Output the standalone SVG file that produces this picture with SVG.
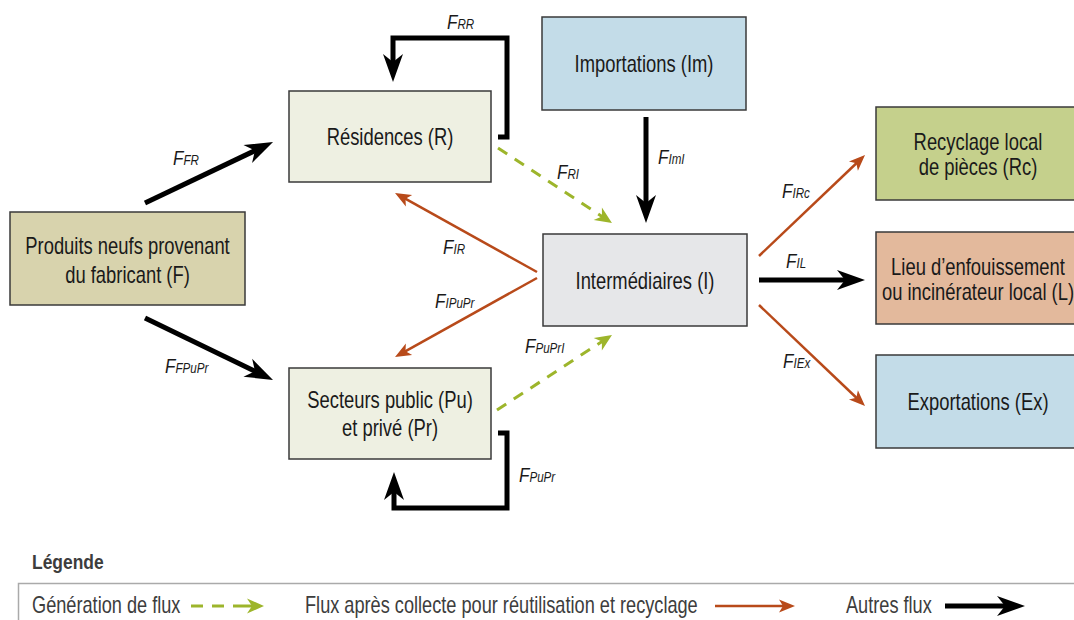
<svg xmlns="http://www.w3.org/2000/svg" width="1074" height="620" viewBox="0 0 1074 620">
<style>
text{font-family:"Liberation Sans",Arial,sans-serif;}
.box{stroke:#3a3a3a;stroke-width:1.5;}
.bt{font-size:23px;fill:#1a1a1a;text-anchor:middle;}
.lbl{font-size:20.5px;font-style:italic;fill:#1a1a1a;}
.sub{font-size:14px;}
.blk{stroke:#000;stroke-width:5;fill:none;}
.brn{stroke:#b84a1a;stroke-width:2.5;fill:none;}
.grn{stroke:#9db52b;stroke-width:3;fill:none;stroke-dasharray:11 9;}
.gs{stroke:#9db52b;stroke-width:3;fill:none;}
.leg{font-size:23px;fill:#3d3d3d;}
</style>
<defs>
<marker id="mb" markerUnits="userSpaceOnUse" orient="auto" refX="-10" refY="0" markerWidth="40" markerHeight="40" style="overflow:visible"><path d="M0,0 L-28,-10 L-20,0 L-28,10 Z" fill="#000"/></marker>
<marker id="mr" markerUnits="userSpaceOnUse" orient="auto" refX="-5" refY="0" markerWidth="20" markerHeight="20" style="overflow:visible"><path d="M0,0 L-16,-6.5 L-12,0 L-16,6.5 Z" fill="#b84a1a"/></marker>
<marker id="mg" markerUnits="userSpaceOnUse" orient="auto" refX="-5" refY="0" markerWidth="20" markerHeight="20" style="overflow:visible"><path d="M0,0 L-17,-7.5 L-12,0 L-17,7.5 Z" fill="#9db52b"/></marker>
</defs>
<rect width="1074" height="620" fill="#fff"/>

<g id="node-F"><rect class="box" x="10" y="212" width="235" height="93" fill="#d8d3ad"/><text class="bt" transform="translate(127.5,253.5) scale(0.8,1)">Produits neufs provenant</text><text class="bt" transform="translate(127.5,282.5) scale(0.8,1)">du fabricant (F)</text></g>
<g id="node-R"><rect class="box" x="289" y="91" width="202" height="91" fill="#eef0e2"/><text class="bt" transform="translate(390,145) scale(0.8,1)">Résidences (R)</text></g>
<g id="node-Pu"><rect class="box" x="289" y="368" width="202" height="91" fill="#eef0e2"/><text class="bt" transform="translate(390,408) scale(0.8,1)">Secteurs public (Pu)</text><text class="bt" transform="translate(390,435.5) scale(0.8,1)">et privé (Pr)</text></g>
<g id="node-Im"><rect class="box" x="542" y="17" width="204" height="93" fill="#c3dce8"/><text class="bt" transform="translate(644,72) scale(0.8,1)">Importations (Im)</text></g>
<g id="node-I"><rect class="box" x="543" y="234" width="204" height="92" fill="#e6e7e9"/><text class="bt" transform="translate(645,288.5) scale(0.8,1)">Intermédiaires (I)</text></g>
<g id="node-Rc"><rect class="box" x="876" y="107" width="204" height="93" fill="#c5d08c"/><text class="bt" transform="translate(978,149.5) scale(0.8,1)">Recyclage local</text><text class="bt" transform="translate(978,175) scale(0.8,1)">de pièces (Rc)</text></g>
<g id="node-L"><rect class="box" x="876" y="232" width="204" height="92" fill="#e3b99c"/><text class="bt" transform="translate(978,274.5) scale(0.8,1)">Lieu d’enfouissement</text><text class="bt" transform="translate(978,300) scale(0.8,1)">ou incinérateur local (L)</text></g>
<g id="node-Ex"><rect class="box" x="876" y="355" width="204" height="93" fill="#c3dce8"/><text class="bt" transform="translate(978,409.5) scale(0.8,1)">Exportations (Ex)</text></g>

<g id="connectors">
<line class="blk" x1="145" y1="203" x2="264" y2="146.3" marker-end="url(#mb)"/>
<line class="blk" x1="145" y1="318" x2="264" y2="375.6" marker-end="url(#mb)"/>
<line class="blk" x1="646" y1="117" x2="646" y2="213" marker-end="url(#mb)"/>
<line class="blk" x1="759" y1="280" x2="855" y2="280" marker-end="url(#mb)"/>
<polyline class="blk" points="498,137 507,137 507,38 393,38 393,72" marker-end="url(#mb)"/>
<polyline class="blk" points="498,433 507,433 507,508 394,508 394,482" marker-end="url(#mb)"/>
<line class="brn" x1="537" y1="272" x2="399.4" y2="195.4" marker-end="url(#mr)"/>
<line class="brn" x1="537" y1="278" x2="399.4" y2="354.6" marker-end="url(#mr)"/>
<line class="brn" x1="759" y1="256" x2="861.4" y2="158.5" marker-end="url(#mr)"/>
<line class="brn" x1="759" y1="305" x2="861.4" y2="402.5" marker-end="url(#mr)"/>
<line class="grn" x1="498" y1="148" x2="607.8" y2="220.3" marker-end="url(#mg)"/>
<line class="grn" x1="497" y1="410" x2="607.8" y2="337.7" marker-end="url(#mg)"/>
</g>

<g id="labels">
<text class="lbl" transform="translate(447,29) scale(0.83,1)">F<tspan class="sub">RR</tspan></text>
<text class="lbl" transform="translate(173,165) scale(0.83,1)">F<tspan class="sub">FR</tspan></text>
<text class="lbl" transform="translate(557,179) scale(0.83,1)">F<tspan class="sub">RI</tspan></text>
<text class="lbl" transform="translate(658,164) scale(0.83,1)">F<tspan class="sub">ImI</tspan></text>
<text class="lbl" transform="translate(443,254) scale(0.83,1)">F<tspan class="sub">IR</tspan></text>
<text class="lbl" transform="translate(435,308) scale(0.83,1)">F<tspan class="sub">IPuPr</tspan></text>
<text class="lbl" transform="translate(525,353) scale(0.83,1)">F<tspan class="sub">PuPrI</tspan></text>
<text class="lbl" transform="translate(165,373) scale(0.83,1)">F<tspan class="sub">FPuPr</tspan></text>
<text class="lbl" transform="translate(782,198) scale(0.83,1)">F<tspan class="sub">IRc</tspan></text>
<text class="lbl" transform="translate(786,268) scale(0.83,1)">F<tspan class="sub">IL</tspan></text>
<text class="lbl" transform="translate(783,368) scale(0.83,1)">F<tspan class="sub">IEx</tspan></text>
<text class="lbl" transform="translate(519,482) scale(0.83,1)">F<tspan class="sub">PuPr</tspan></text>
</g>

<g id="legend">
<text transform="translate(32,569) scale(0.83,1)" font-size="21" font-weight="bold" fill="#3d3d3d">Légende</text>
<path d="M1074,583.5 H18.5 V620" fill="none" stroke="#aaa" stroke-width="1.5"/>
<text class="leg" transform="translate(32,612.5) scale(0.79,1)">Génération de flux</text>
<line class="gs" x1="191" y1="606" x2="203" y2="606"/>
<line class="gs" x1="212" y1="606" x2="224" y2="606"/>
<line class="gs" x1="233" y1="606" x2="259" y2="606" marker-end="url(#mg)"/>
<text class="leg" transform="translate(305,612.5) scale(0.79,1)">Flux après collecte pour réutilisation et recyclage</text>
<line class="brn" x1="715" y1="606" x2="790" y2="606" marker-end="url(#mr)"/>
<text class="leg" transform="translate(846,612.5) scale(0.79,1)">Autres flux</text>
<line class="blk" x1="945" y1="606" x2="1015" y2="606" marker-end="url(#mb)"/>
</g>
</svg>
